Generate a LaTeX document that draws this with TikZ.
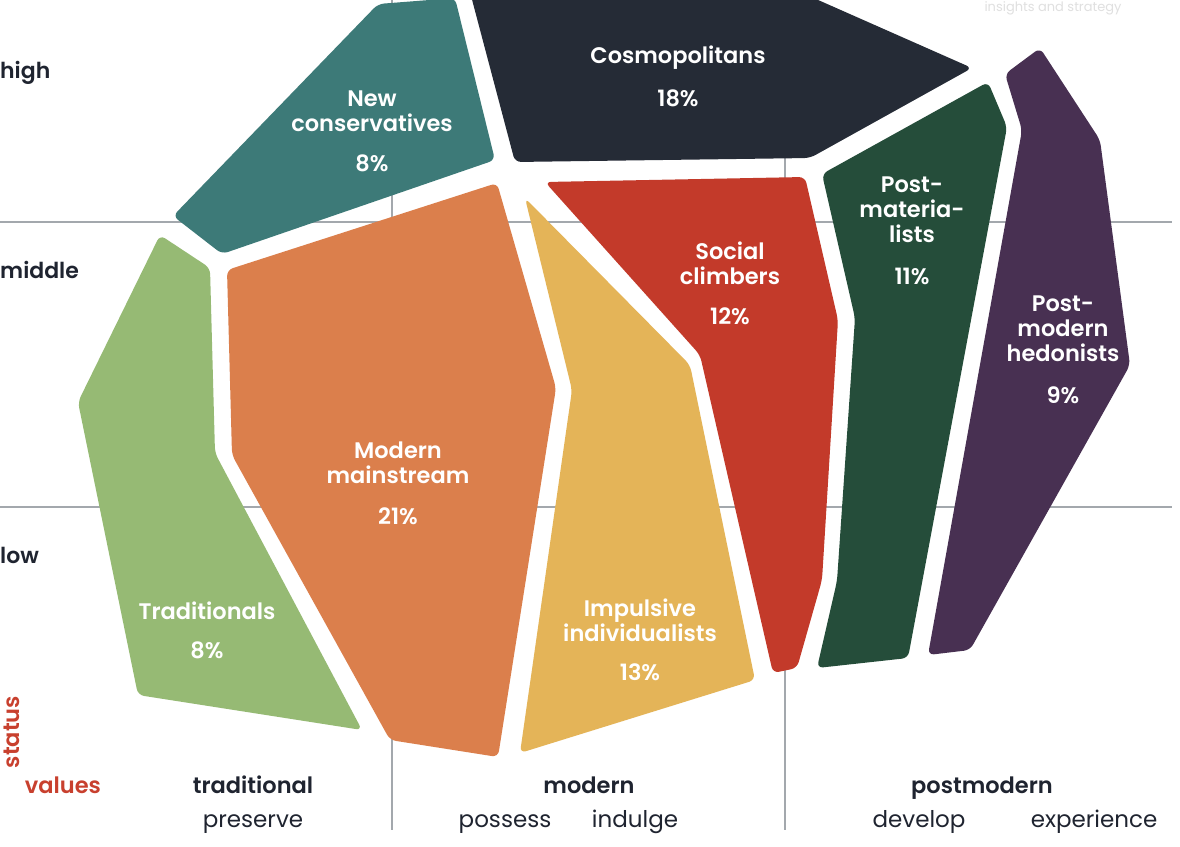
\documentclass[tikz,border=0pt]{standalone}
\usepackage{fontspec}
\setmainfont{Poppins}[BoldFont={Poppins SemiBold}]
\definecolor{cteal}{HTML}{3D7A78}
\definecolor{cdark}{HTML}{252B36}
\definecolor{corange}{HTML}{DB7F4C}
\definecolor{cyellow}{HTML}{E4B458}
\definecolor{cred}{HTML}{C33A2A}
\definecolor{cgreen}{HTML}{254D3A}
\definecolor{cpurple}{HTML}{483052}
\definecolor{clight}{HTML}{96BA74}
\definecolor{cgrid}{HTML}{A3A8AD}
\definecolor{ctext}{HTML}{1F2430}
\definecolor{caxis}{HTML}{C8402E}
\begin{document}
\begin{tikzpicture}[x=1pt,y=-1pt,
  seg/.style={fill=#1, draw=none, rounded corners=6pt},
  grid/.style={draw=cgrid, line width=1.2pt},
  lab/.style={text=white, font=\bfseries\fontsize{22.5}{26}\selectfont, align=center, inner sep=0pt},
  pct/.style={text=white, font=\bfseries\fontsize{22.5}{26}\selectfont, inner sep=0pt},
  lvl/.style={text=ctext, font=\bfseries\fontsize{22}{24}\selectfont, inner sep=0pt, anchor=base west},
  axh/.style={text=ctext, font=\bfseries\fontsize{22.5}{24}\selectfont, inner sep=0pt, anchor=base},
  axs/.style={text=ctext, font=\fontsize{23}{24}\selectfont, inner sep=0pt, anchor=base},
  axr/.style={text=caxis, font=\bfseries\fontsize{22.5}{24}\selectfont, inner sep=0pt}]
\useasboundingbox (0,0) rectangle (1180,846);
\fill[white] (0,0) rectangle (1180,846);
% grid
\draw[grid] (0,222) -- (1172,222);
\draw[grid] (0,507) -- (1172,507);
\draw[grid] (392,0) -- (392,830);
\draw[grid] (785,120) -- (785,830);
% segments
\fill[seg=cdark] (470,-8) -- (800,-8) -- (972,68) -- (810,158) -- (515,162) -- cycle;
\fill[seg=cteal] (173,216) -- (378,4) -- (455,-2) -- (495,160) -- (222,254) -- cycle;
\fill[seg=corange] (227,270) -- (497,183) -- (556,388) -- (498,757) -- (390,740) -- (232,455) -- cycle;
\fill[seg=cyellow] (525,198) -- (690,365) -- (755,680) -- (520,753) -- (572,390) -- cycle;
\fill[seg=cred] (545,182) -- (805,177) -- (838,320) -- (822,580) -- (797,668) -- (773,673) -- (700,355) -- cycle;
\fill[seg=cgreen] (822,174) -- (988,82) -- (1007,127) -- (908,658) -- (817,668) -- (837,581) -- (855,318) -- cycle;
\fill[seg=cpurple] (1005,74) -- (1040,48) -- (1100,140) -- (1130,365) -- (970,650) -- (928,655) -- (1022,130) -- cycle;
\fill[seg=clight] (160,235) -- (210,268) -- (215,453) -- (362,730) -- (138,695) -- (78,402) -- cycle;
% labels
\node[lab] (cosn) at (678,58) {Cosmopolitans};
\node[pct] (cosp) at (678,98) {18\%};
\node[lab] (newn) at (372,111) {New\\[-1pt]conservatives};
\node[pct] (newp) at (372,163) {8\%};
\node[lab] (modn) at (398,463) {Modern\\[-1pt]mainstream};
\node[pct] (modp) at (398,516) {21\%};
\node[lab] (impn) at (640,620) {Impulsive\\[-1pt]individualists};
\node[pct] (impp) at (640,672) {13\%};
\node[lab] (socn) at (730,263) {Social\\[-1pt]climbers};
\node[pct] (socp) at (730,316) {12\%};
\node[lab] (matn) at (912,210) {Post-\\[-1pt]materia-\\[-1pt]lists};
\node[pct] (matp) at (912,276) {11\%};
\node[lab] (hedn) at (1063,329) {Post-\\[-1pt]modern\\[-1pt]hedonists};
\node[pct] (hedp) at (1063,395) {9\%};
\node[lab] (tran) at (207,611) {Traditionals};
\node[pct] (trap) at (207,650) {8\%};
% status levels
\node[lvl] (high) at (0,78) {high};
\node[lvl] (middle) at (0,278) {middle};
\node[lvl] (low) at (0,563) {low};
% axes titles
\node[axr, rotate=90] (status) at (12,732) {status};
\node[axr, anchor=base] (values) at (63,793) {values};
\node[axh] (trad) at (253,793) {traditional};
\node[axs] (pres) at (253,827) {preserve};
\node[axh] (mod) at (589,793) {modern};
\node[axs] (poss) at (505,827) {possess};
\node[axs] (indu) at (635,827) {indulge};
\node[axh] (pmod) at (982,793) {postmodern};
\node[axs] (deve) at (919,827) {develop};
\node[axs] (expe) at (1094,827) {experience};
\node[text=black!12, font=\fontsize{13}{16}\selectfont, inner sep=0pt, anchor=north] (brand) at (1053,1) {insights and strategy};
\end{tikzpicture}
\end{document}
